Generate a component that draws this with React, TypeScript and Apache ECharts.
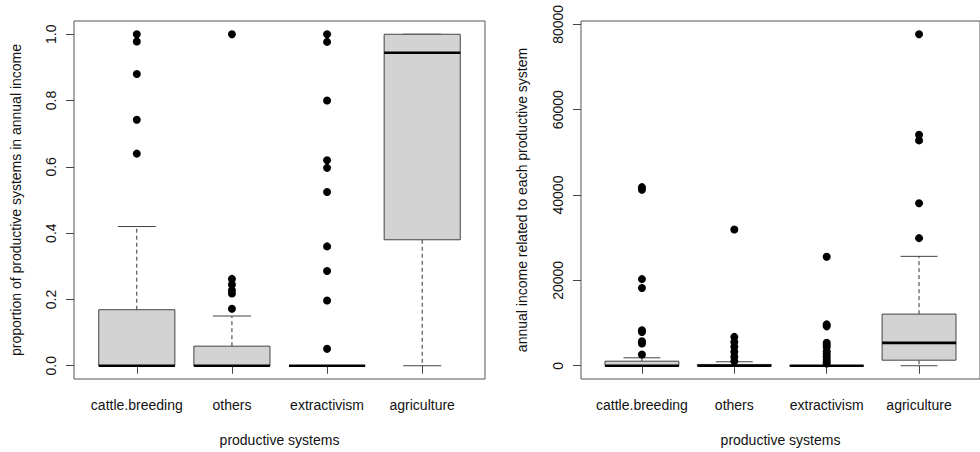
import React, { useEffect, useRef } from "react";
import * as echarts from "echarts";

const categories = ["cattle.breeding", "others", "extractivism", "agriculture"];

// [lower whisker, Q1, median, Q3, upper whisker]
const propBoxStats = [
  [0, 0, 0, 0.169, 0.42],
  [0, 0, 0, 0.059, 0.15],
  [0, 0, 0, 0, 0],
  [0, 0.38, 0.944, 1.0, 1.0],
];
const propOutliers = [
  [0.64, 0.742, 0.88, 0.978, 1.0],
  [0.172, 0.218, 0.228, 0.245, 0.262, 1.0],
  [0.051, 0.197, 0.286, 0.36, 0.524, 0.597, 0.62, 0.8, 0.977, 1.0],
  [],
];
const propTicks = [0, 0.2, 0.4, 0.6, 0.8, 1.0];

const incomeBoxStats = [
  [0, 0, 0, 1070, 1860],
  [0, 0, 0, 300, 930],
  [0, 0, 0, 0, 0],
  [0, 1300, 5360, 12100, 25630],
];
const incomeOutliers = [
  [2630, 5200, 5730, 7900, 8300, 18200, 20300, 41240, 41850],
  [1070, 2100, 3260, 4430, 5590, 6760, 31920],
  [540, 1000, 1600, 2200, 2800, 3400, 4400, 4900, 5400, 9230, 9700, 25540],
  [29900, 38060, 52800, 54130, 77670],
];
const incomeTicks = [0, 20000, 40000, 60000, 80000];

const xTicks = [1, 2, 3, 4];

const FONT = "'Liberation Sans', Arial, Helvetica, sans-serif";
const TEXT = "#111";
const LINE = "#444";

function extended(stats: number[][], outs: number[][]) {
  const all = stats.flat().concat(outs.flat());
  const lo = Math.min(...all);
  const hi = Math.max(...all);
  const r = hi - lo;
  return [lo - 0.04 * r, hi + 0.04 * r];
}

function renderBox(params: any, api: any) {
  const x = api.value(0);
  const lo = api.value(1);
  const q1 = api.value(2);
  const med = api.value(3);
  const q3 = api.value(4);
  const hi = api.value(5);
  const half = api.size([0.8, 0])[0] / 2;
  const cap = half / 2;
  const [cx, yLo] = api.coord([x, lo]);
  const yQ1 = api.coord([x, q1])[1];
  const yMed = api.coord([x, med])[1];
  const yQ3 = api.coord([x, q3])[1];
  const yHi = api.coord([x, hi])[1];
  const dash = { stroke: "#333", lineWidth: 1, lineDash: [4, 3] };
  const solid = { stroke: "#444", lineWidth: 1 };
  return {
    type: "group",
    children: [
      { type: "line", shape: { x1: cx, y1: yQ3, x2: cx, y2: yHi }, style: dash },
      { type: "line", shape: { x1: cx, y1: yQ1, x2: cx, y2: yLo }, style: dash },
      { type: "line", shape: { x1: cx - cap, y1: yHi, x2: cx + cap, y2: yHi }, style: solid },
      { type: "line", shape: { x1: cx - cap, y1: yLo, x2: cx + cap, y2: yLo }, style: solid },
      {
        type: "rect",
        shape: { x: cx - half, y: yQ3, width: half * 2, height: Math.max(yQ1 - yQ3, 0) },
        style: { fill: "#d3d3d3", stroke: "#444", lineWidth: 1 },
      },
      {
        type: "line",
        shape: { x1: cx - half, y1: yMed, x2: cx + half, y2: yMed },
        style: { stroke: "#000", lineWidth: 2.6 },
      },
    ],
  };
}

function makeX(gridIndex: number) {
  return {
    type: "value",
    gridIndex,
    min: 0.34,
    max: 4.66,
    axisLine: { show: false },
    splitLine: { show: false },
    axisTick: { show: true, customValues: xTicks, length: 8, lineStyle: { color: LINE } },
    axisLabel: {
      customValues: xTicks,
      formatter: (v: number) => categories[Math.round(v) - 1] ?? "",
      fontSize: 14,
      fontFamily: FONT,
      color: TEXT,
      margin: 19,
    },
    name: "productive systems",
    nameLocation: "middle",
    nameGap: 54,
    nameTextStyle: { fontSize: 14, fontFamily: FONT, color: TEXT },
  };
}

function makeY(gridIndex: number, ext: number[], ticks: number[], fmt: (v: number) => string, name: string, margin: number, nameGap: number) {
  return {
    type: "value",
    gridIndex,
    min: ext[0],
    max: ext[1],
    axisLine: { show: false },
    splitLine: { show: false },
    axisTick: { show: true, customValues: ticks, length: 8, lineStyle: { color: LINE } },
    axisLabel: {
      customValues: ticks,
      formatter: fmt,
      rotate: 90,
      fontSize: 14,
      fontFamily: FONT,
      color: TEXT,
      margin,
    },
    name,
    nameLocation: "middle",
    nameGap,
    nameRotate: 90,
    nameTextStyle: { fontSize: 14, fontFamily: FONT, color: TEXT },
  };
}

export default function App() {
  const ref = useRef<HTMLDivElement>(null);
  useEffect(() => {
    if (!ref.current) return;
    const chart = echarts.init(ref.current, undefined, { renderer: "svg" });
    const propExt = extended(propBoxStats, propOutliers);
    const incExt = extended(incomeBoxStats, incomeOutliers);
    const gridBase = {
      top: 21,
      width: 411,
      height: 360,
      show: true,
      borderColor: "#555",
      borderWidth: 1,
      backgroundColor: "transparent",
    };
    const pointStyle = { color: "#000", opacity: 1 };
    chart.setOption({
      animation: false,
      backgroundColor: "#fff",
      grid: [
        { ...gridBase, left: 74 },
        { ...gridBase, left: 581 },
      ],
      xAxis: [makeX(0), makeX(1)],
      yAxis: [
        makeY(0, propExt, propTicks, (v) => v.toFixed(1), "proportion of productive systems in annual income", 16, 51),
        makeY(1, incExt, incomeTicks, (v) => String(Math.round(v)), "annual income related to each productive system", 16, 52),
      ],
      series: [
        {
          type: "custom",
          xAxisIndex: 0,
          yAxisIndex: 0,
          renderItem: renderBox,
          encode: { x: 0, y: [1, 2, 3, 4, 5] },
          data: propBoxStats.map((s, i) => [i + 1, ...s]),
          z: 2,
        },
        {
          type: "custom",
          xAxisIndex: 1,
          yAxisIndex: 1,
          renderItem: renderBox,
          encode: { x: 0, y: [1, 2, 3, 4, 5] },
          data: incomeBoxStats.map((s, i) => [i + 1, ...s]),
          z: 2,
        },
        {
          type: "scatter",
          xAxisIndex: 0,
          yAxisIndex: 0,
          symbol: "circle",
          symbolSize: 8,
          itemStyle: pointStyle,
          data: propOutliers.flatMap((arr, i) => arr.map((v) => [i + 1, v])),
          z: 3,
        },
        {
          type: "scatter",
          xAxisIndex: 1,
          yAxisIndex: 1,
          symbol: "circle",
          symbolSize: 8,
          itemStyle: pointStyle,
          data: incomeOutliers.flatMap((arr, i) => arr.map((v) => [i + 1, v])),
          z: 3,
        },
      ],
    });
    return () => chart.dispose();
  }, []);
  return (
    <div
      ref={ref}
      style={{ position: "fixed", left: 0, top: 0, width: 980, height: 452, background: "#fff" }}
    />
  );
}
